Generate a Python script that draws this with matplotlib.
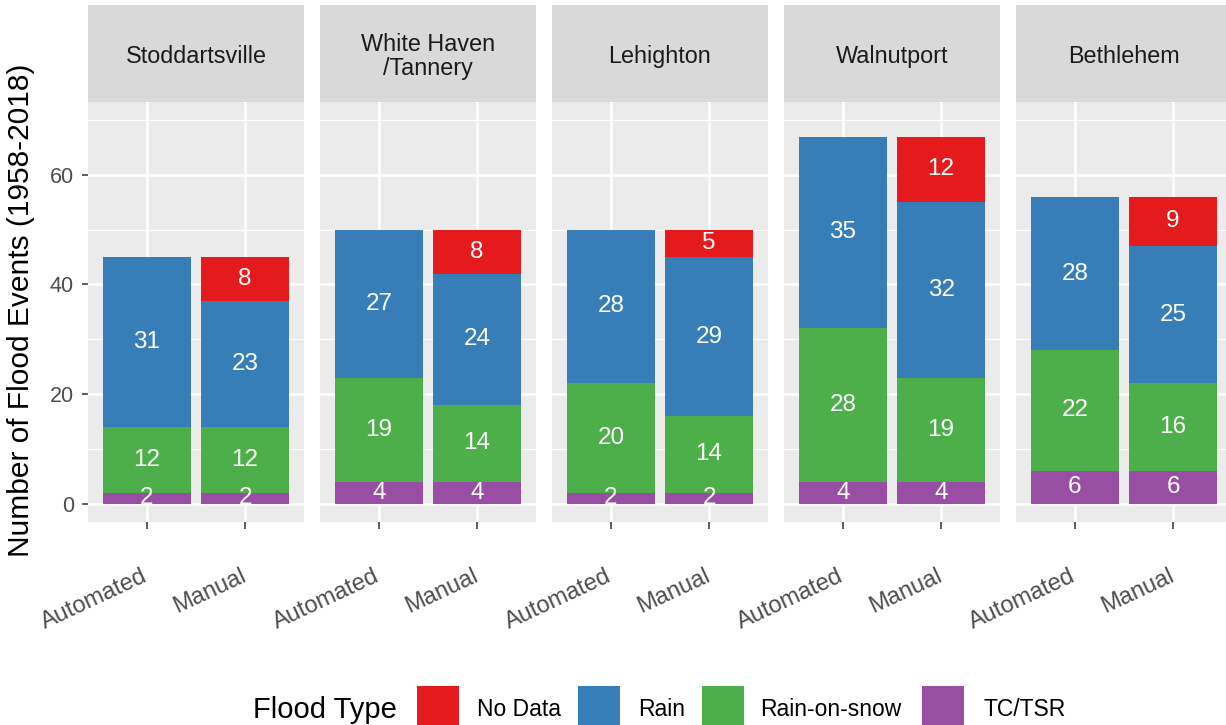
import matplotlib
matplotlib.use("Agg")
import matplotlib.pyplot as plt
import matplotlib.transforms as mtransforms
from matplotlib.patches import Rectangle
import numpy as np

plt.rcParams["font.family"] = ["Liberation Sans", "DejaVu Sans"]

# ---- data -------------------------------------------------------------
sites = ["Stoddartsville", "White Haven\n/Tannery", "Lehighton", "Walnutport", "Bethlehem"]
methods = ["Automated", "Manual"]

# flood counts per site, [Automated, Manual]
tc_tsr = [[2, 2], [4, 4], [2, 2], [4, 4], [6, 6]]
rain_on_snow = [[12, 12], [19, 14], [20, 14], [28, 19], [22, 16]]
rain = [[31, 23], [27, 24], [28, 29], [35, 32], [28, 25]]
no_data = [[0, 8], [0, 8], [0, 5], [0, 12], [0, 9]]

# stacking order, bottom to top
layers = [("TC/TSR", tc_tsr, "#984EA3"),
          ("Rain-on-snow", rain_on_snow, "#4DAF4A"),
          ("Rain", rain, "#377EB8"),
          ("No Data", no_data, "#E41A1C")]
legend_order = ["No Data", "Rain", "Rain-on-snow", "TC/TSR"]

y_ticks = [0, 20, 40, 60]
y_minor = [10, 30, 50, 70]

# ---- figure / layout --------------------------------------------------
W, H = 1226, 725
fig = plt.figure(figsize=(W / 100, H / 100), dpi=100)


def fx(px):
    return px / W


def fy(py):
    return 1 - py / H


panel_left = [88, 320, 552, 784, 1016]
panel_w = 216
panel_top, panel_bot = 102, 522
strip_top = 5

panel_bg = "#EBEBEB"
strip_bg = "#D9D9D9"
text_gray = "#4D4D4D"
tick_gray = "#333333"

x = np.arange(len(methods))
ymax = max(sum(l[1][i][j] for l in layers) for i in range(len(sites)) for j in range(2))
pad = 0.05 * ymax
label_shift = mtransforms.ScaledTranslation(4 / 100, 0, fig.dpi_scale_trans)

for i, site in enumerate(sites):
    left = panel_left[i]
    ax = fig.add_axes([fx(left), fy(panel_bot), fx(panel_w), (panel_bot - panel_top) / H])
    ax.set_facecolor(panel_bg)
    for s in ax.spines.values():
        s.set_visible(False)

    bottom = np.zeros(len(methods))
    for name, vals, col in layers:
        v = np.array(vals[i], dtype=float)
        bars = ax.bar(x, v, width=0.9, bottom=bottom, color=col, linewidth=0, zorder=3)
        labels = [str(int(n)) if n > 0 else "" for n in v]
        ax.bar_label(bars, labels=labels, label_type="center", color="white",
                     fontsize=17.5, zorder=4)
        bottom += v

    ax.set_xlim(-0.6, len(methods) - 0.4)
    ax.set_ylim(-pad, 73.3)

    ax.set_yticks(y_ticks)
    ax.set_yticks(y_minor, minor=True)
    ax.set_xticks(x)
    ax.grid(which="major", color="white", linewidth=1.8, zorder=0)
    ax.grid(which="minor", axis="y", color="white", linewidth=0.9, zorder=0)
    ax.set_axisbelow(True)

    ax.tick_params(axis="y", which="minor", length=0)
    ax.tick_params(axis="x", length=5, width=1.1, color=tick_gray, pad=26)
    ax.set_xticklabels(methods, rotation=25, ha="right", va="top",
                       fontsize=17, color=text_gray)
    for lab in ax.get_xticklabels():
        lab.set_transform(lab.get_transform() + label_shift)
    if i == 0:
        ax.tick_params(axis="y", length=4, width=1.1, color=tick_gray, pad=6,
                       labelsize=15.5, labelcolor=text_gray)
    else:
        ax.tick_params(axis="y", length=0, labelleft=False)

    # facet strip
    sax = fig.add_axes([fx(left), fy(panel_top), fx(panel_w), (panel_top - strip_top) / H])
    sax.set_facecolor(strip_bg)
    sax.set_xticks([])
    sax.set_yticks([])
    for s in sax.spines.values():
        s.set_visible(False)
    sax.text(0.5, 0.47, site, ha="center", va="center", fontsize=16.8,
             color="#1A1A1A", linespacing=1.05, transform=sax.transAxes)

fig.text(fx(21), fy(310), "Number of Flood Events (1958-2018)", rotation=90,
         ha="center", va="center", fontsize=21.5, color="black")

# ---- legend -----------------------------------------------------------
colors = {name: col for name, _, col in layers}
fig.text(fx(253), fy(710), "Flood Type", ha="left", va="center", fontsize=21, color="black")
key_x = [417, 578, 702, 922]
lab_x = [477, 638, 760, 983]
for name, kx, lx in zip(legend_order, key_x, lab_x):
    fig.patches.append(Rectangle((fx(kx), fy(732)), fx(42), 46 / H, transform=fig.transFigure,
                                 facecolor=colors[name], edgecolor="none"))
    fig.text(fx(lx), fy(710), name, ha="left", va="center", fontsize=16.5, color="black")

fig.savefig("out.png", dpi=100, facecolor="white")
